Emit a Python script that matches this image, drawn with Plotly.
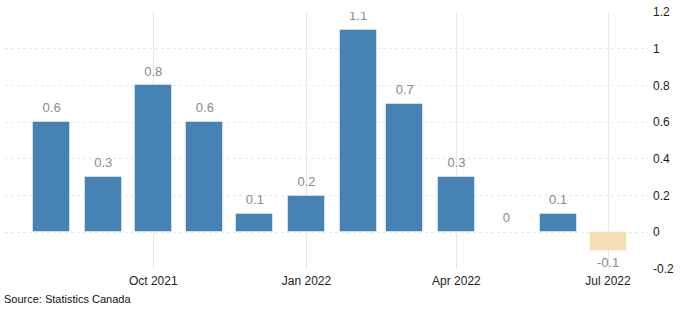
import plotly.graph_objects as go

months = ["2021-08-01", "2021-09-01", "2021-10-01", "2021-11-01", "2021-12-01", "2022-01-01",
          "2022-02-01", "2022-03-01", "2022-04-01", "2022-05-01", "2022-06-01", "2022-07-01"]
values = [0.6, 0.3, 0.8, 0.6, 0.1, 0.2, 1.1, 0.7, 0.3, 0.0, 0.1, -0.1]
tick_dates = ["2021-10-01", "2022-01-01", "2022-04-01", "2022-07-01"]
tick_labels = ["Oct 2021", "Jan 2022", "Apr 2022", "Jul 2022"]
y_ticks = [-0.2, 0, 0.2, 0.4, 0.6, 0.8, 1, 1.2]
y_labels = ["-0.2", "0", "0.2", "0.4", "0.6", "0.8", "1", "1.2"]

POS = "#4682B4"
NEG = "#F5DEB3"
colors = [POS if v >= 0 else NEG for v in values]
labels = [f"{v:g}" for v in values]

fig = go.Figure()
fig.add_trace(go.Bar(
    x=months, y=values,
    width=22.2 * 86400000,
    marker=dict(color=colors, line=dict(color="rgba(255,255,255,0.45)", width=1)),
    hoverinfo="skip",
))
fig.add_trace(go.Scatter(
    x=months, y=values, mode="markers+text", text=labels,
    marker=dict(size=9, opacity=0),
    textposition=["top center" if v >= 0 else "bottom center" for v in values],
    textfont=dict(family="Liberation Sans", size=13, color="#8a8a8a"),
    hoverinfo="skip",
))

fig.update_layout(
    width=686, height=310,
    margin=dict(l=5, r=38, t=9, b=41),
    paper_bgcolor="white", plot_bgcolor="white",
    showlegend=False,
    bargap=0,
    xaxis=dict(
        type="date",
        range=["2021-07-04", "2022-07-25"],
        tickvals=tick_dates, ticktext=tick_labels,
        showgrid=True, gridcolor="#e8e8e8", gridwidth=1,
        zeroline=False, showline=False, ticks="",
        ticklabelstandoff=3,
        tickfont=dict(family="Liberation Sans", size=12, color="#222222"),
    ),
    yaxis=dict(
        side="right",
        range=[-0.2, 1.2],
        tickvals=y_ticks, ticktext=y_labels,
        showgrid=True, gridcolor="#e8e8e8", griddash="dot", gridwidth=1,
        zeroline=False, showline=False, ticks="",
        ticklabelstandoff=4,
        tickfont=dict(family="Liberation Sans", size=12, color="#1a1a1a"),
    ),
    annotations=[dict(
        text="Source: Statistics Canada", xref="paper", yref="paper",
        x=0, y=0, xanchor="left", yanchor="top", yshift=-22, xshift=-3,
        showarrow=False,
        font=dict(family="Liberation Sans", size=11, color="#111111"),
    )],
)

fig.write_html("out.html")
